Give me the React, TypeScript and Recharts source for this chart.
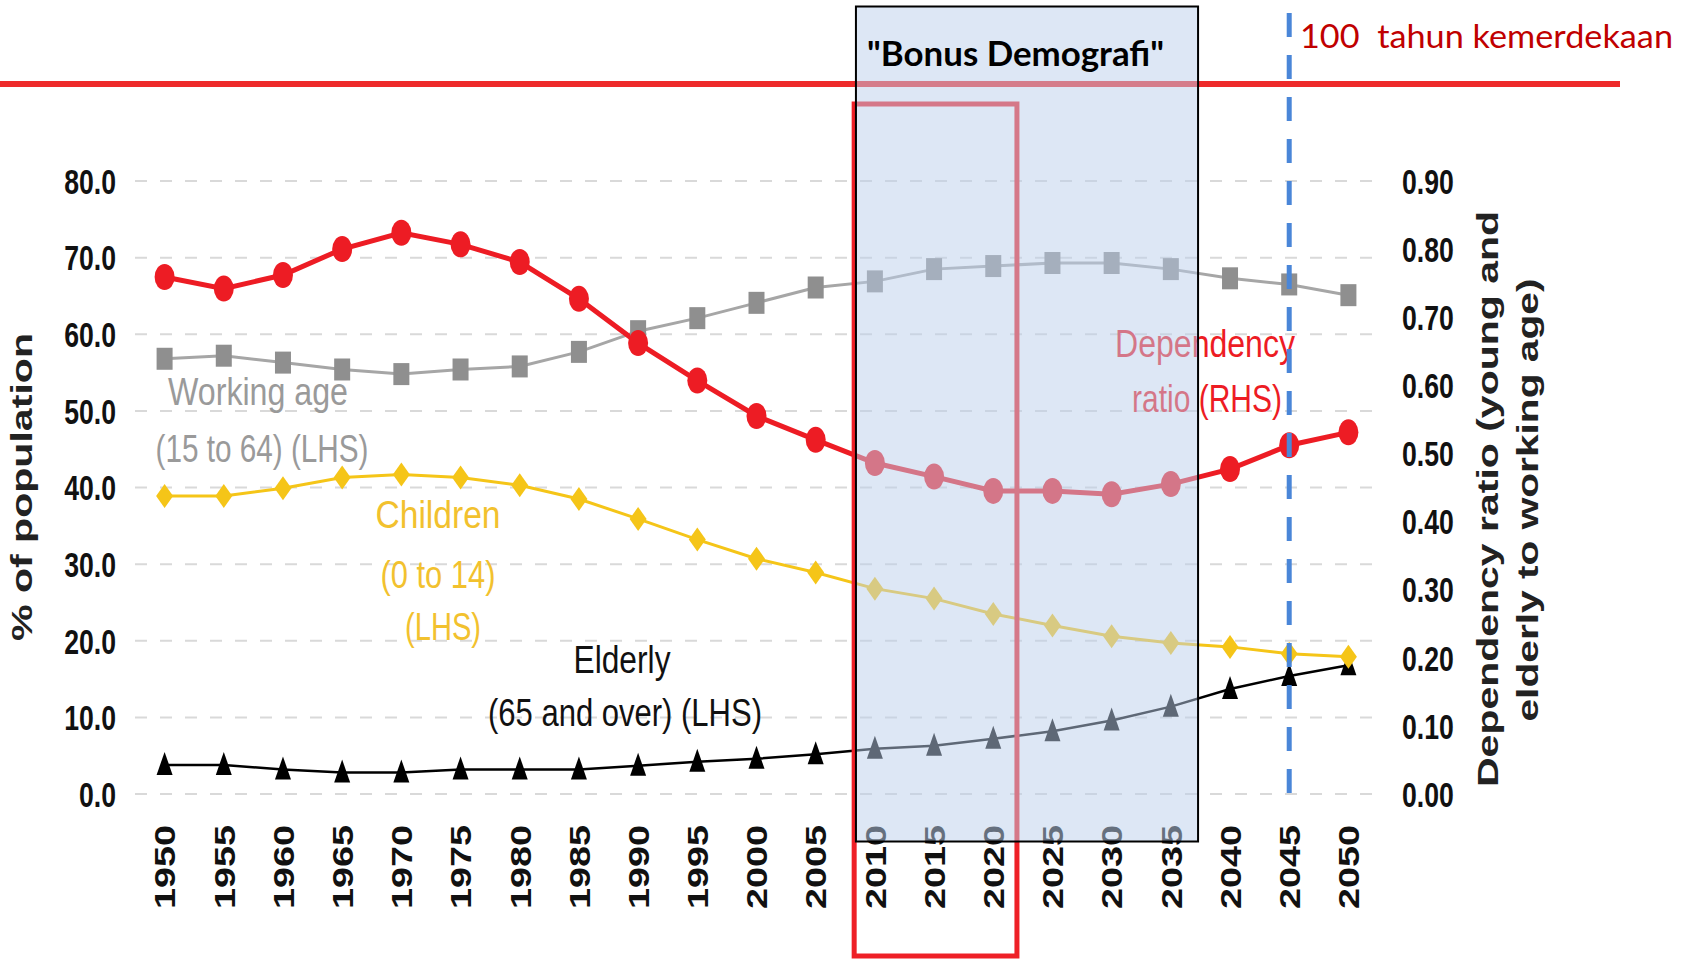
import React from 'react'
import { LineChart, Line, XAxis, YAxis, CartesianGrid } from 'recharts'

const years = [1950, 1955, 1960, 1965, 1970, 1975, 1980, 1985, 1990, 1995, 2000, 2005, 2010, 2015, 2020, 2025, 2030, 2035, 2040, 2045, 2050]
const dependencyRatio = [0.759, 0.742, 0.762, 0.8, 0.824, 0.807, 0.781, 0.727, 0.662, 0.607, 0.555, 0.52, 0.486, 0.466, 0.445, 0.445, 0.44, 0.455, 0.477, 0.512, 0.531]
const workingAge = [56.8, 57.2, 56.3, 55.4, 54.8, 55.4, 55.8, 57.7, 60.4, 62.1, 64.1, 66.1, 66.9, 68.5, 68.9, 69.3, 69.3, 68.5, 67.3, 66.5, 65.1]
const children = [38.9, 38.9, 39.9, 41.3, 41.7, 41.3, 40.3, 38.5, 35.9, 33.2, 30.7, 28.9, 26.8, 25.5, 23.5, 22.0, 20.6, 19.7, 19.2, 18.3, 17.9]
const elderly = [3.8, 3.8, 3.2, 2.8, 2.8, 3.2, 3.2, 3.2, 3.7, 4.2, 4.6, 5.2, 5.9, 6.3, 7.2, 8.2, 9.6, 11.4, 13.7, 15.4, 16.8]
const leftTicks = [0, 10, 20, 30, 40, 50, 60, 70, 80]
const rightTicks = [0, 0.1, 0.2, 0.3, 0.4, 0.5, 0.6, 0.7, 0.8, 0.9]

// annotation years
const bonusStart = 2008.4
const bonusEnd = 2037.3
const focusStart = 2008.25
const focusEnd = 2022
const centenaryYear = 2045

const data = years.map((year, i) => ({
  year,
  dependency: dependencyRatio[i],
  working: workingAge[i],
  children: children[i],
  elderly: elderly[i],
}))

const W = 1695
const H = 959
const PLOT_LEFT = 135
const PLOT_RIGHT = 1378
const PLOT_TOP = 181
const PLOT_BOTTOM = 794
const X_DOMAIN: [number, number] = [1947.5, 2052.5]

const xPx = (v: number) =>
  PLOT_LEFT + ((v - X_DOMAIN[0]) / (X_DOMAIN[1] - X_DOMAIN[0])) * (PLOT_RIGHT - PLOT_LEFT)

const ARIAL = "'Liberation Sans', Arial, sans-serif"
const CALIBRI = "Lato, 'Open Sans', sans-serif"

const RED = '#ed1c24'
const GRAY = '#8f8f8f'
const YELLOW = '#f5c518'

const circleDot = (p: any) => (
  <ellipse key={`c${p.index}`} cx={p.cx} cy={p.cy} rx={10} ry={13} fill={RED} />
)
const squareDot = (p: any) => (
  <rect key={`s${p.index}`} x={p.cx - 8} y={p.cy - 11} width={16} height={22} fill={GRAY} />
)
const diamondDot = (p: any) => (
  <polygon
    key={`d${p.index}`}
    points={`${p.cx},${p.cy - 12} ${p.cx + 8.5},${p.cy} ${p.cx},${p.cy + 12} ${p.cx - 8.5},${p.cy}`}
    fill={YELLOW}
  />
)
const triangleDot = (p: any) => (
  <polygon
    key={`t${p.index}`}
    points={`${p.cx},${p.cy - 13} ${p.cx + 8},${p.cy + 10} ${p.cx - 8},${p.cy + 10}`}
    fill="#000"
  />
)

const YearTick = ({ x, y, payload }: any) => (
  <text
    x={x}
    y={y}
    transform={`rotate(-90 ${x} ${y})`}
    textAnchor="end"
    dy="0.36em"
    fontFamily={ARIAL}
    fontWeight="bold"
    fontSize={30}
    fill="#111"
    textLength={84}
    lengthAdjust="spacingAndGlyphs"
  >
    {payload.value}
  </text>
)

const makeValueTick = (digits: number, anchor: 'start' | 'end') => ({ x, y, payload }: any) => (
  <text
    transform={`translate(${x},${y}) scale(0.74,1)`}
    textAnchor={anchor}
    dy="0.355em"
    fontFamily={ARIAL}
    fontWeight="bold"
    fontSize={36}
    fill="#111"
  >
    {Number(payload.value).toFixed(digits)}
  </text>
)

const LeftTick = makeValueTick(1, 'end')
const RightTick = makeValueTick(2, 'start')

const label = (text: string, cx: number, baseline: number, width: number, color: string) => (
  <text
    x={cx}
    y={baseline}
    textAnchor="middle"
    fontFamily={ARIAL}
    fontSize={38}
    fill={color}
    textLength={width}
    lengthAdjust="spacingAndGlyphs"
  >
    {text}
  </text>
)

export default function App() {
  const x2045 = xPx(centenaryYear)
  return (
    <div style={{ position: 'absolute', left: 0, top: 0, width: W, height: H, background: '#fff' }}>
      <LineChart
        width={W}
        height={H}
        data={data}
        margin={{ top: PLOT_TOP, right: 0, bottom: 0, left: 0 }}
      >
        <CartesianGrid
          yAxisId="left"
          vertical={false}
          stroke="#d9d9d9"
          strokeWidth={2}
          strokeDasharray="12 13"
        />
        <XAxis
          dataKey="year"
          type="number"
          domain={X_DOMAIN}
          ticks={years}
          interval={0}
          height={H - PLOT_BOTTOM}
          axisLine={false}
          tickLine={false}
          tickSize={0}
          tickMargin={31}
          tick={<YearTick />}
        />
        <YAxis
          yAxisId="left"
          domain={[0, 80]}
          ticks={leftTicks}
          interval={0}
          width={PLOT_LEFT}
          axisLine={false}
          tickLine={false}
          tickSize={0}
          tickMargin={19}
          tick={<LeftTick />}
        />
        <YAxis
          yAxisId="right"
          orientation="right"
          domain={[0, 0.9]}
          ticks={rightTicks}
          interval={0}
          width={W - PLOT_RIGHT}
          axisLine={false}
          tickLine={false}
          tickSize={0}
          tickMargin={24}
          tick={<RightTick />}
        />
        <Line yAxisId="left" type="linear" dataKey="elderly" stroke="#000" strokeWidth={2.5} dot={triangleDot} isAnimationActive={false} />
        <Line yAxisId="left" type="linear" dataKey="children" stroke={YELLOW} strokeWidth={3} dot={diamondDot} isAnimationActive={false} />
        <Line yAxisId="left" type="linear" dataKey="working" stroke="#a6a6a6" strokeWidth={3} dot={squareDot} isAnimationActive={false} />
        <Line yAxisId="right" type="linear" dataKey="dependency" stroke={RED} strokeWidth={5} dot={circleDot} isAnimationActive={false} />
      </LineChart>

      <svg width={W} height={H} style={{ position: 'absolute', left: 0, top: 0, pointerEvents: 'none' }}>
        {/* axis titles */}
        <text
          x={32}
          y={487}
          transform="rotate(-90 32 487)"
          textAnchor="middle"
          fontFamily={ARIAL}
          fontWeight="bold"
          fontSize={30}
          fill="#222"
          textLength={308}
          lengthAdjust="spacingAndGlyphs"
        >
          % of population
        </text>
        <text
          x={1498}
          y={499}
          transform="rotate(-90 1498 499)"
          textAnchor="middle"
          fontFamily={ARIAL}
          fontWeight="bold"
          fontSize={30}
          fill="#222"
          textLength={576}
          lengthAdjust="spacingAndGlyphs"
        >
          Dependency ratio (young and
        </text>
        <text
          x={1538}
          y={500}
          transform="rotate(-90 1538 500)"
          textAnchor="middle"
          fontFamily={ARIAL}
          fontWeight="bold"
          fontSize={30}
          fill="#222"
          textLength={443}
          lengthAdjust="spacingAndGlyphs"
        >
          elderly to working age)
        </text>

        {/* series labels */}
        {label('Working age', 258, 405, 180, '#9a9a9a')}
        {label('(15 to 64) (LHS)', 262, 462, 213, '#9a9a9a')}
        {label('Children', 438, 528, 125, '#f2c12e')}
        {label('(0 to 14)', 438, 588, 115, '#f2c12e')}
        {label('(LHS)', 443, 640, 76, '#f2c12e')}
        {label('Elderly', 622, 673, 97, '#111')}
        {label('(65 and over) (LHS)', 625, 726, 274, '#111')}
        {label('Dependency', 1205, 357, 180, RED)}
        {label('ratio (RHS)', 1207, 412, 150, RED)}

        {/* red frame around 2010-2020 */}
        <rect
          x={xPx(focusStart)}
          y={104}
          width={xPx(focusEnd) - xPx(focusStart)}
          height={852}
          fill="none"
          stroke="#ee2027"
          strokeWidth={5}
        />
        {/* red horizontal line */}
        <line x1={0} y1={84} x2={1620} y2={84} stroke="#ee2a2a" strokeWidth={6} />

        {/* bonus demografi box */}
        <rect
          x={xPx(bonusStart)}
          y={6.5}
          width={xPx(bonusEnd) - xPx(bonusStart)}
          height={835}
          fill="rgba(187,208,236,0.5)"
          stroke="#000"
          strokeWidth={2}
        />
        <text
          x={867}
          y={66}
          fontFamily={CALIBRI}
          fontWeight="bold"
          fontSize={35}
          fill="#000"
          textLength={297}
          lengthAdjust="spacingAndGlyphs"
        >
          "Bonus Demografi"
        </text>

        {/* 2045 marker */}
        <line
          x1={x2045}
          y1={13}
          x2={x2045}
          y2={PLOT_BOTTOM}
          stroke="#4a86d8"
          strokeWidth={5}
          strokeDasharray="24 18"
        />
        <text
          x={1300}
          y={48}
          fontFamily={CALIBRI}
          fontSize={32}
          fill="#c00000"
          textLength={373}
          lengthAdjust="spacingAndGlyphs"
          style={{ whiteSpace: 'pre' }}
        >
          100  tahun kemerdekaan
        </text>
      </svg>
    </div>
  )
}
